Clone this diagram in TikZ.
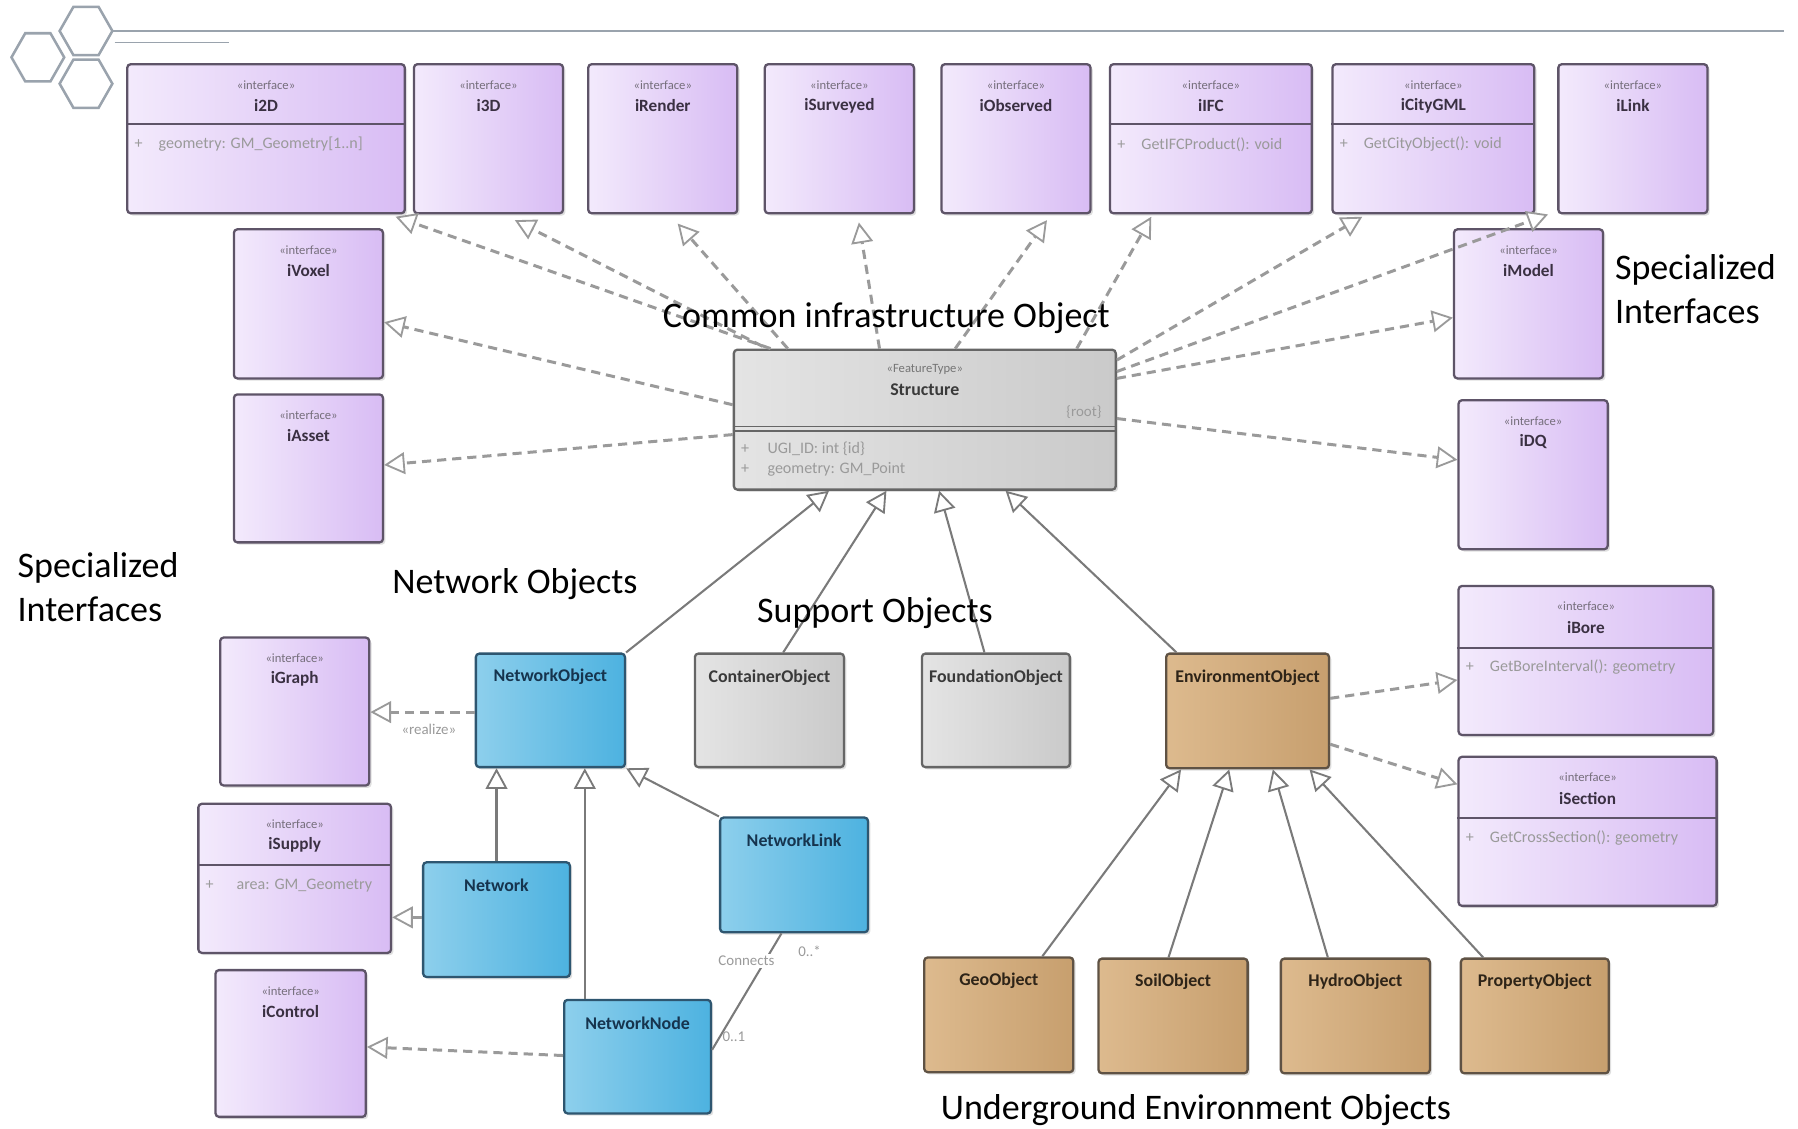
\documentclass[tikz,border=0pt]{standalone}
\usepackage{fontspec}
\setmainfont{Carlito}
\usetikzlibrary{arrows.meta,calc,shadows}

\definecolor{ifL}{HTML}{F3EAFC}
\definecolor{ifR}{HTML}{D8BCF4}
\definecolor{ifB}{HTML}{5E5468}
\definecolor{ifT}{HTML}{3A3042}
\definecolor{grL}{HTML}{E4E4E4}
\definecolor{grR}{HTML}{CACACA}
\definecolor{grB}{HTML}{666666}
\definecolor{grT}{HTML}{3A3A3A}
\definecolor{blL}{HTML}{8DCFEC}
\definecolor{blR}{HTML}{4DB2E0}
\definecolor{blB}{HTML}{2E5670}
\definecolor{blT}{HTML}{16344E}
\definecolor{tnL}{HTML}{DDBA8E}
\definecolor{tnR}{HTML}{C79F6E}
\definecolor{tnB}{HTML}{5F5244}
\definecolor{tnT}{HTML}{2E2418}
\definecolor{dashC}{HTML}{9A9A9A}
\definecolor{genC}{HTML}{7A7A7A}
\definecolor{attrC}{HTML}{9A9A9A}
\definecolor{hexC}{HTML}{9AA3AD}

% box outline: x1 y1 x2 y2 in pixel units
\newcommand\umlbox[6]{%
  \node[#1, anchor=north west,
        minimum width={(#5-#3)*0.5pt},
        minimum height={(#6-#4)*0.5pt}] (#2) at (#3,#4) {};}
% interface heading: stereotype and name
\newcommand\ifhead[2]{%
  \node[stereo] (#1-s) at ($(#1.north)+(0,19)$) {«interface»};
  \node[ifname] (#1-n) at ($(#1.north)+(0,37)$) {#2};}
% compartment divider
\newcommand\divider[2]{%
  \draw[ifB, line width=0.9pt] ($(#1.west|-0,#2)$) -- ($(#1.east|-0,#2)$);}
% hexagon ornament
\newcommand\hexat[2]{%
  \draw[hexC, line width=1.1pt] (#1-23,#2) -- (#1-11,#2-21) -- (#1+11,#2-21)
    -- (#1+23,#2) -- (#1+11,#2+21) -- (#1-11,#2+21) -- cycle;}

\begin{document}
\begin{tikzpicture}[x=0.5pt, y=-0.5pt,
  boxbase/.style={rectangle, rounded corners=1.5pt, line width=1pt, inner sep=0pt,
    drop shadow={opacity=0.25, shadow xshift=1pt, shadow yshift=-1pt}},
  iface/.style={boxbase, draw=ifB, left color=ifL, right color=ifR},
  graybox/.style={boxbase, draw=grB, left color=grL, right color=grR},
  bluebox/.style={boxbase, draw=blB, left color=blL, right color=blR},
  tanbox/.style={boxbase, draw=tnB, left color=tnL, right color=tnR},
  stereo/.style={font=\fontsize{5.5}{6}\selectfont, text=ifT!70, inner sep=0pt},
  ifname/.style={font=\fontsize{7.5}{8}\selectfont\bfseries, text=ifT, inner sep=0pt},
  clsname/.style={font=\fontsize{7.8}{8}\selectfont\bfseries, inner sep=0pt},
  attr/.style={font=\fontsize{7}{8}\selectfont, text=attrC, inner sep=0pt, anchor=west},
  biglabel/.style={font=\fontsize{15.7}{19}\selectfont, text=black, inner sep=0pt},
  smalllabel/.style={font=\fontsize{6.5}{7}\selectfont, text=attrC, inner sep=0.5pt},
  tip/.style={-{Triangle[open, length=9pt, width=9.5pt, line width=0.8pt, fill=white]}},
  real/.style={tip, draw=dashC, line width=1.3pt, dash pattern=on 4pt off 2.6pt},
  gen/.style={tip, draw=genC, line width=0.9pt},
  assoc/.style={draw=genC, line width=0.9pt}
]
\useasboundingbox (0,0) rectangle (1568,984);
\fill[white] (0,0) rectangle (1568,984);

% ---------- header ornament ----------
\hexat{75}{27}
\hexat{33}{50}
\hexat{75}{73}
\draw[hexC, line width=1.2pt] (98,27) -- (1556,27);
\draw[hexC, line width=0.8pt] (100,37) -- (200,37);

% ---------- top row of interfaces ----------
\umlbox{iface}{i2D}{110}{55}{352}{185}
\umlbox{iface}{i3D}{360}{55}{490}{185}
\umlbox{iface}{iRender}{512}{55}{642}{185}
\umlbox{iface}{iSurveyed}{666}{55}{796}{185}
\umlbox{iface}{iObserved}{820}{55}{950}{185}
\umlbox{iface}{iIFC}{967}{55}{1143}{185}
\umlbox{iface}{iCityGML}{1161}{55}{1337}{185}
\umlbox{iface}{iLink}{1358}{55}{1488}{185}
\ifhead{i2D}{i2D}
\ifhead{i3D}{i3D}
\ifhead{iRender}{iRender}
\ifhead{iSurveyed}{iSurveyed}
\ifhead{iObserved}{iObserved}
\ifhead{iIFC}{iIFC}
\ifhead{iCityGML}{iCityGML}
\ifhead{iLink}{iLink}
\divider{i2D}{108}
\divider{iIFC}{108}
\divider{iCityGML}{108}
\node[attr] (i2D-a) at (117,126) {+\hspace{7pt}geometry: GM\_Geometry[1..n]};
\node[attr] (iIFC-a) at (974,126) {+\hspace{7pt}GetIFCProduct(): void};
\node[attr] (iCityGML-a) at (1168,126) {+\hspace{7pt}GetCityObject(): void};

% ---------- left column ----------
\umlbox{iface}{iVoxel}{203}{199}{333}{329}
\umlbox{iface}{iAsset}{203}{343}{333}{472}
\ifhead{iVoxel}{iVoxel}
\ifhead{iAsset}{iAsset}

% ---------- right column ----------
\umlbox{iface}{iModel}{1267}{199}{1397}{329}
\umlbox{iface}{iDQ}{1271}{348}{1401}{478}
\umlbox{iface}{iBore}{1271}{510}{1493}{640}
\umlbox{iface}{iSection}{1271}{659}{1496}{789}
\ifhead{iModel}{iModel}
\ifhead{iDQ}{iDQ}
\ifhead{iBore}{iBore}
\ifhead{iSection}{iSection}
\divider{iBore}{565}
\divider{iSection}{713}
\node[attr] (iBore-a) at (1278,582) {+\hspace{7pt}GetBoreInterval(): geometry};
\node[attr] (iSection-a) at (1278,731) {+\hspace{7pt}GetCrossSection(): geometry};

% ---------- central feature type ----------
\umlbox{graybox}{S}{639}{304}{972}{426}
\node[stereo, text=grT!70] (S-s) at ($(S.north)+(0,18)$) {«FeatureType»};
\node[clsname, text=grT] (S-n) at ($(S.north)+(0,36)$) {Structure};
\node[smalllabel, anchor=east] (S-r) at (962,359) {\{root\}};
\draw[grB, line width=0.8pt] (639,372) -- (972,372);
\draw[grB, line width=0.8pt] (639,376) -- (972,376);
\node[attr] (S-a1) at (646,391) {+\hspace{8pt}UGI\_ID: int \{id\}};
\node[attr] (S-a2) at (646,409) {+\hspace{8pt}geometry: GM\_Point};

% ---------- network objects ----------
\umlbox{bluebox}{NO}{414}{569}{544}{668}
\umlbox{bluebox}{NW}{368}{751}{496}{851}
\umlbox{bluebox}{NL}{627}{712}{756}{812}
\umlbox{bluebox}{NN}{491}{871}{619}{970}
\node[clsname, text=blT] (NO-n) at ($(NO.north)+(0,21)$) {NetworkObject};
\node[clsname, text=blT] (NW-n) at ($(NW.north)+(0,21)$) {Network};
\node[clsname, text=blT] (NL-n) at ($(NL.north)+(0,21)$) {NetworkLink};
\node[clsname, text=blT] (NN-n) at ($(NN.north)+(0,21)$) {NetworkNode};

% ---------- network interfaces ----------
\umlbox{iface}{iGraph}{191}{555}{321}{684}
\umlbox{iface}{iSupply}{172}{700}{340}{830}
\umlbox{iface}{iControl}{187}{845}{318}{973}
\ifhead{iGraph}{iGraph}
\ifhead{iSupply}{iSupply}
\ifhead{iControl}{iControl}
\divider{iSupply}{754}
\node[attr] (iSupply-a) at (179,772) {+\hspace{10pt}area: GM\_Geometry};

% ---------- support objects ----------
\umlbox{graybox}{CO}{605}{569}{735}{668}
\umlbox{graybox}{FO}{803}{569}{932}{668}
\node[clsname, text=grT] (CO-n) at ($(CO.north)+(0,22)$) {ContainerObject};
\node[clsname, text=grT] (FO-n) at ($(FO.north)+(0,22)$) {FoundationObject};

% ---------- environment objects ----------
\umlbox{tanbox}{EO}{1016}{569}{1158}{669}
\umlbox{tanbox}{GO}{805}{834}{935}{934}
\umlbox{tanbox}{SO}{957}{835}{1087}{935}
\umlbox{tanbox}{HO}{1116}{835}{1246}{935}
\umlbox{tanbox}{PO}{1273}{835}{1402}{935}
\node[clsname, text=tnT] (EO-n) at ($(EO.north)+(0,22)$) {EnvironmentObject};
\node[clsname, text=tnT] (GO-n) at ($(GO.north)+(0,21)$) {GeoObject};
\node[clsname, text=tnT] (SO-n) at ($(SO.north)+(0,21)$) {SoilObject};
\node[clsname, text=tnT] (HO-n) at ($(HO.north)+(0,21)$) {HydroObject};
\node[clsname, text=tnT] (PO-n) at ($(PO.north)+(0,21)$) {PropertyObject};

% ---------- realizations of Structure ----------
\draw[real] ($(S.north west)+(33,0)$) -- ($(i2D.south east)+(-9,2)$);
\draw[real] ($(S.north west)+(26,-2)$) -- ($(i3D.south)+(23,5)$);
\draw[real] ($(S.north west)+(48,0)$) -- ($(iRender.south)+(13,8)$);
\draw[real] ($(S.north west)+(128,0)$) -- ($(iSurveyed.south)+(17,7)$);
\draw[real] ($(S.north west)+(194,0)$) -- ($(iObserved.south)+(27,5)$);
\draw[real] ($(S.north west)+(300,0)$) -- ($(iIFC.south)+(-52,2)$);
\draw[real] ($(S.north east)+(0,10)$) -- ($(iCityGML.south west)+(27,2)$);
\draw[real] ($(S.north east)+(0,20)$) -- ($(iLink.south west)+(-8,0)$);
\draw[real] ($(S.north east)+(0,26)$) -- ($(iModel.west)+(0,12)$);
\draw[real] ($(S.east)+(0,-1)$) -- ($(iDQ.west)+(0,-13)$);
\draw[real] ($(S.west)+(0,-13)$) -- ($(iVoxel.east)+(0,16)$);
\draw[real] ($(S.west)+(0,13)$) -- ($(iAsset.east)+(0,-3)$);

% ---------- generalizations to Structure ----------
\draw[gen] (NO.north east) -- ($(S.south west)+(84,0)$);
\draw[gen] ($(CO.north)+(12,0)$) -- ($(S.south west)+(134,0)$);
\draw[gen] ($(FO.north)+(-10,0)$) -- ($(S.south west)+(180,0)$);
\draw[gen] ($(EO.north west)+(10,0)$) -- ($(S.south west)+(238,0)$);

% ---------- network relations ----------
\draw[real] (NO.west|-0,621) -- (iGraph.east|-0,621);
\node[smalllabel] (realize) at (374,636) {«realize»};
\draw[real] (NW.west|-0,800) -- (iSupply.east|-0,800);
\draw[real] ($(NN.west)+(0,-1)$) -- ($(iControl.east)+(0,3)$);
\draw[gen] (NW.north-|433,0) -- (NO.south-|433,0);
\draw[gen] (NN.north-|510,0) -- (NO.south-|510,0);
\draw[gen] (NL.north west) -- (NO.south east);
\draw[assoc] ($(NL.south)+(-11,0)$) -- ($(NN.east)+(0,-6)$);
\node[smalllabel, fill=white, inner sep=1pt] (conn) at (651,838) {Connects};
\node[smalllabel] (m1) at (706,830) {0..*};
\node[smalllabel] (m2) at (640,904) {0..1};

% ---------- environment relations ----------
\draw[real] ($(EO.east)+(0,-11)$) -- ($(iBore.west)+(0,17)$);
\draw[real] ($(EO.east)+(0,29)$) -- ($(iSection.west)+(0,-41)$);
\draw[gen] ($(GO.north)+(38,0)$) -- ($(EO.south west)+(14,0)$);
\draw[gen] ($(SO.north)+(-4,0)$) -- ($(EO.south west)+(56,0)$);
\draw[gen] ($(HO.north)+(-24,0)$) -- ($(EO.south west)+(94,0)$);
\draw[gen] ($(PO.north)+(-45,0)$) -- ($(EO.south west)+(126,0)$);

% ---------- group captions ----------
\node[biglabel] (capCommon) at (773,277) {Common infrastructure Object};
\node[biglabel, align=left, anchor=west] (capSpecR) at (1408,252) {Specialized\\Interfaces};
\node[biglabel, align=left, anchor=west] (capSpecL) at (15,512) {Specialized\\Interfaces};
\node[biglabel] (capNet) at (449,509) {Network Objects};
\node[biglabel] (capSup) at (763,535) {Support Objects};
\node[biglabel] (capEnv) at (1043,968) {Underground Environment Objects};
\end{tikzpicture}
\end{document}
